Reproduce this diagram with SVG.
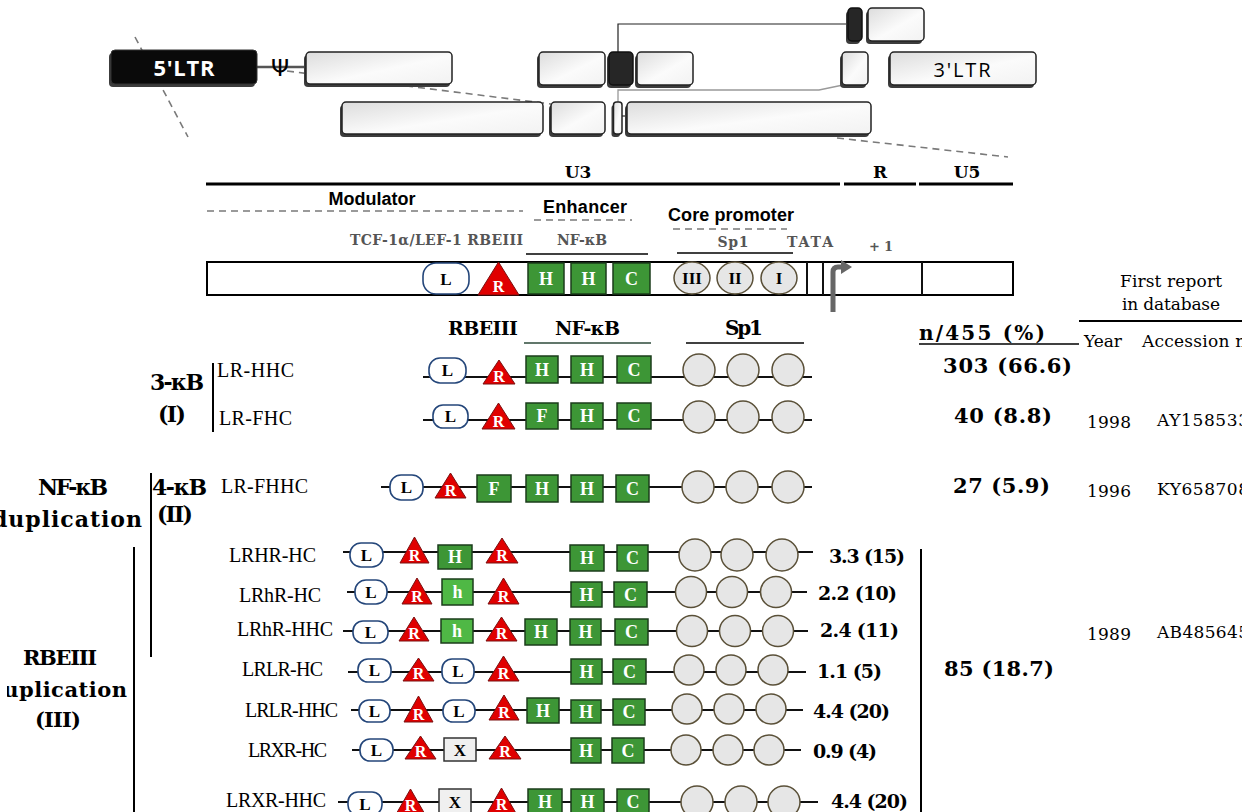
<svg xmlns="http://www.w3.org/2000/svg" width="1258" height="812" viewBox="0 0 1258 812">
  <defs>
    <linearGradient id="boxFill" x1="0" y1="0" x2="1" y2="1">
      <stop offset="0" stop-color="#dcdcdc"/>
      <stop offset="0.55" stop-color="#fbfbfb"/>
      <stop offset="1" stop-color="#f2f2f2"/>
    </linearGradient>
    <clipPath id="rightClip"><rect x="0" y="0" width="1242" height="812"/></clipPath>
    <clipPath id="leftClip"><rect x="7" y="540" width="200" height="272"/></clipPath>
    <style>
      .gbox{fill:url(#boxFill);stroke:#222;stroke-width:1.5}
      .gdark{fill:#262626;stroke:#111;stroke-width:1.5}
      .shadow{fill:#3c3c3c}
      .dash{stroke:#7a7a7a;stroke-width:1.6;stroke-dasharray:7 5;fill:none}
      .bar{fill:#fff;stroke:#000;stroke-width:2}
      .rule{stroke:#000;stroke-width:3}
      .thin{stroke:#000;stroke-width:1.5}
      .bb{stroke:#111;stroke-width:2}
      .lbox{fill:#fff;stroke:#24467a;stroke-width:1.6}
      .tri{fill:#e00000;stroke:#7a1111;stroke-width:1}
      .hbox{fill:#3d9636;stroke:#1b3d1b;stroke-width:1.5}
      .hlight{fill:#4fb845;stroke:#1b3d1b;stroke-width:1.5}
      .xbox{fill:#f0f0f0;stroke:#333;stroke-width:1.5}
      .sp{fill:#e6e6e6;stroke:#5a5038;stroke-width:1.5}
      .vline{stroke:#000;stroke-width:2}
      .sym{font-family:"Liberation Serif","Times New Roman",serif;font-weight:bold;font-size:18px;text-anchor:middle;fill:#fff}
      .symk{font-family:"Liberation Serif","Times New Roman",serif;font-weight:bold;font-size:17px;text-anchor:middle;fill:#000}
      .symr{font-family:"Liberation Serif","Times New Roman",serif;font-weight:bold;font-size:16px;text-anchor:middle;fill:#fff}
      .serif{font-family:"DejaVu Serif",serif;fill:#000}
      .serifb{font-family:"DejaVu Serif",serif;font-weight:bold;fill:#000}
      .grayb{font-family:"DejaVu Serif",serif;font-weight:bold;fill:#555}
      .sans{font-family:"Liberation Sans",Arial,sans-serif;font-weight:bold;font-size:18px;fill:#000;text-anchor:middle}
      .row{font-family:"Liberation Serif","Times New Roman",serif;font-size:20px;fill:#000}
      .pct{font-size:19px}
      .big{font-size:21px}
    </style>
  </defs>
  <rect width="1258" height="812" fill="#fff"/>

  <!-- genome map: connectors and guide lines -->
  <g id="connectors">
    <line class="dash" x1="135" y1="37" x2="188" y2="137"/>
    <line class="dash" x1="287" y1="71" x2="551" y2="104"/>
    <line class="dash" x1="837" y1="138" x2="1008" y2="157"/>
    <line x1="257" y1="67" x2="306" y2="67" stroke="#555" stroke-width="2.5"/>
    <path d="M848,24 H618 V52" fill="none" stroke="#222" stroke-width="1.2"/>
    <path d="M843,85 L819,90 H618 V102" fill="none" stroke="#999" stroke-width="1.3"/>
    <line x1="622" y1="116" x2="627" y2="116" stroke="#555" stroke-width="1.5"/>
  </g>

  <!-- genome map: exon boxes -->
  <g id="genome">
    <g id="ltr5">
      <rect class="shadow" x="109" y="53" width="146" height="34" rx="4"/>
      <rect x="111" y="50" width="146" height="34" rx="4" fill="#0a0a0a" stroke="#333" stroke-width="1"/>
      <text x="184" y="76" text-anchor="middle" font-family="'Open Sans','DejaVu Sans',sans-serif" font-weight="bold" font-size="22" fill="#fff" textLength="61">5'LTR</text>
    </g>
    <text id="psi" x="280" y="76" text-anchor="middle" font-family="'DejaVu Sans',sans-serif" font-size="23" fill="#000">Ψ</text>
    <g id="gag">
      <rect class="shadow" x="304" y="55" width="146" height="32" rx="4"/>
      <rect class="gbox" x="306" y="52" width="146" height="32" rx="4"/>
    </g>
    <g id="row2-a">
      <rect class="shadow" x="340" y="105" width="201" height="32" rx="4"/>
      <rect class="gbox" x="342" y="102" width="201" height="32" rx="4"/>
    </g>
    <g id="row2-b">
      <rect class="shadow" x="549" y="105" width="54" height="32" rx="4"/>
      <rect class="gbox" x="551" y="102" width="54" height="32" rx="4"/>
    </g>
    <g id="row2-c">
      <rect class="shadow" x="611.5" y="105" width="8.5" height="32" rx="3"/>
      <rect class="gbox" x="613.5" y="102" width="8.5" height="32" rx="3"/>
    </g>
    <g id="row2-d">
      <rect class="shadow" x="625" y="105" width="244" height="32" rx="4"/>
      <rect class="gbox" x="627" y="102" width="244" height="32" rx="4"/>
    </g>
    <g id="mid-a">
      <rect class="shadow" x="537" y="55" width="66" height="33" rx="4"/>
      <rect class="gbox" x="539" y="52" width="66" height="33" rx="4"/>
    </g>
    <g id="mid-exon">
      <rect class="shadow" x="607" y="55" width="24" height="33" rx="4"/>
      <rect class="gdark" x="609" y="52" width="24" height="33" rx="4"/>
    </g>
    <g id="mid-b">
      <rect class="shadow" x="635" y="55" width="56" height="33" rx="4"/>
      <rect class="gbox" x="637" y="52" width="56" height="33" rx="4"/>
    </g>
    <g id="mid-c">
      <rect class="shadow" x="840" y="55" width="26" height="33" rx="4"/>
      <rect class="gbox" x="842" y="52" width="26" height="33" rx="4"/>
    </g>
    <g id="ltr3">
      <rect class="shadow" x="888" y="55" width="146" height="33" rx="4"/>
      <rect class="gbox" x="890" y="52" width="146" height="33" rx="4"/>
      <text x="962" y="77" text-anchor="middle" font-family="'Open Sans','DejaVu Sans',sans-serif" font-size="20" fill="#000" textLength="57">3'LTR</text>
    </g>
    <g id="top-exon">
      <rect class="shadow" x="846" y="11" width="14" height="33" rx="4"/>
      <rect class="gdark" x="848" y="8" width="14" height="33" rx="4"/>
    </g>
    <g id="top-b">
      <rect class="shadow" x="866" y="11" width="56" height="33" rx="4"/>
      <rect class="gbox" x="868" y="8" width="56" height="33" rx="4"/>
    </g>
  </g>

  <!-- LTR regions -->
  <g id="ltr-regions">
    <line class="rule" x1="206" y1="184" x2="840" y2="184"/>
    <line class="rule" x1="844" y1="184" x2="916" y2="184"/>
    <line class="rule" x1="919" y1="184" x2="1013" y2="184"/>
    <text class="serifb" x="578" y="178" font-size="17" text-anchor="middle">U3</text>
    <text class="serifb" x="880" y="178" font-size="17" text-anchor="middle">R</text>
    <text class="serifb" x="967" y="178" font-size="17" text-anchor="middle">U5</text>

    <text class="sans" x="372" y="205" textLength="87">Modulator</text>
    <line class="dash" x1="207" y1="211" x2="523" y2="211" stroke-width="1" stroke-dasharray="3 2"/>
    <text class="sans" x="585" y="213" textLength="84">Enhancer</text>
    <line class="dash" x1="534" y1="220" x2="632" y2="220" stroke-width="1" stroke-dasharray="3 2"/>
    <text class="sans" x="731" y="221" textLength="126">Core promoter</text>
    <line class="dash" x1="673" y1="229" x2="787" y2="229" stroke-width="1" stroke-dasharray="3 2"/>

    <text class="grayb" x="523" y="245" font-size="14" text-anchor="end" textLength="173">TCF-1α/LEF-1 RBEIII</text>
    <text class="grayb" x="582" y="245" font-size="14" text-anchor="middle" textLength="50">NF-κB</text>
    <line class="thin" x1="526" y1="254" x2="648" y2="254"/>
    <text class="grayb" x="733" y="247" font-size="14" text-anchor="middle" textLength="31">Sp1</text>
    <line class="thin" x1="677" y1="253" x2="793" y2="253"/>
    <text class="grayb" x="810" y="247" font-size="14" text-anchor="middle" textLength="46">TATA</text>
    <text class="grayb" x="881" y="251" font-size="13" text-anchor="middle" textLength="24">+ 1</text>
  </g>

  <!-- U3-R-U5 element map -->
  <g id="ltr-map">
    <rect class="bar" x="207" y="262" width="806" height="33"/>
    <line class="bb" x1="807" y1="262" x2="807" y2="295"/>
    <line class="bb" x1="823" y1="262" x2="823" y2="295"/>
    <line class="bb" x1="922" y1="262" x2="922" y2="295"/>
    <rect class="lbox" x="423" y="263" width="46" height="31" rx="13"/>
    <text class="symk" x="446" y="285" font-size="19">L</text>
    <polygon class="tri" points="478,295 498.5,262 519,295"/>
    <text class="symr" x="498.5" y="292" font-size="18">R</text>
    <rect class="hbox" x="528" y="263" width="36" height="31"/>
    <text class="sym" x="546" y="285">H</text>
    <rect class="hbox" x="571" y="263" width="35" height="31"/>
    <text class="sym" x="588.5" y="285">H</text>
    <rect class="hbox" x="613" y="263" width="37" height="31"/>
    <text class="sym" x="631.5" y="285">C</text>
    <ellipse class="sp" cx="692" cy="278" rx="18" ry="16"/>
    <text class="symk" x="692" y="284">III</text>
    <ellipse class="sp" cx="735" cy="278" rx="18" ry="16"/>
    <text class="symk" x="735" y="284">II</text>
    <ellipse class="sp" cx="779" cy="278" rx="18" ry="16"/>
    <text class="symk" x="779" y="284">I</text>
    <path d="M833,312 V272 Q833,267 838,267 H842" fill="none" stroke="#666" stroke-width="5"/>
    <polygon points="841,260 852,267 841,274" fill="#666"/>
  </g>

  <!-- column headers -->
  <g id="headers">
    <text class="serifb" x="448" y="335" font-size="19" textLength="70">RBEIII</text>
    <text class="serifb" x="555" y="335" font-size="19" textLength="65">NF-κB</text>
    <line x1="524" y1="343" x2="651" y2="343" stroke="#2d4a3a" stroke-width="1.5"/>
    <text class="serifb" x="725" y="335" font-size="20" textLength="38">Sp1</text>
    <line class="thin" x1="686" y1="343" x2="804" y2="343"/>
  </g>

  <!-- group labels -->
  <g id="group-labels">
    <text class="serifb" x="150" y="390" font-size="22" textLength="54">3-κB</text>
    <text class="serifb" x="158" y="422" font-size="22" textLength="28">(I)</text>
    <line class="vline" x1="213" y1="363" x2="213" y2="432"/>
    <text class="serifb" x="38" y="495" font-size="22" textLength="70">NF-κB</text>
    <text class="serifb" x="142" y="527" font-size="22" text-anchor="end" textLength="150">duplication</text>
    <line class="vline" x1="151" y1="473" x2="151" y2="657"/>
    <text class="serifb" x="152" y="495" font-size="22" textLength="55">4-κB</text>
    <text class="serifb" x="157" y="522" font-size="22" textLength="36">(II)</text>
    <text class="serifb" x="23" y="665" font-size="21" textLength="74">RBEIII</text>
    <text class="serifb" x="127" y="697" font-size="21" text-anchor="end" textLength="139" clip-path="url(#leftClip)">duplication</text>
    <text class="serifb" x="35" y="727" font-size="21" textLength="46">(III)</text>
    <line class="vline" x1="134" y1="547" x2="134" y2="812"/>
  </g>

  <!-- variant structures -->
  <g id="var-LR-HHC">
    <text class="row" x="217" y="377" textLength="77">LR-HHC</text>
    <line class="bb" x1="423" y1="377" x2="812" y2="377"/>
    <rect class="lbox" x="429" y="358" width="37" height="25" rx="11"/><text class="symk" x="447.5" y="376">L</text>
    <polygon class="tri" points="483,384 499,360 515,384"/><text class="symr" x="499" y="382">R</text>
    <rect class="hbox" x="526" y="356" width="32" height="27"/><text class="sym" x="542" y="376">H</text>
    <rect class="hbox" x="571" y="356" width="32" height="27"/><text class="sym" x="587" y="376">H</text>
    <rect class="hbox" x="617" y="356" width="34" height="27"/><text class="sym" x="634" y="376">C</text>
    <circle class="sp" cx="699" cy="370" r="16"/><circle class="sp" cx="743" cy="370" r="16"/><circle class="sp" cx="788" cy="370" r="16"/>
  </g>
  <g id="var-LR-FHC">
    <text class="row" x="219" y="425" textLength="73">LR-FHC</text>
    <line class="bb" x1="423" y1="420" x2="812" y2="420"/>
    <rect class="lbox" x="433" y="405" width="35" height="23" rx="10"/><text class="symk" x="450.5" y="422">L</text>
    <polygon class="tri" points="482,429 498.5,403 515,429"/><text class="symr" x="498.5" y="427">R</text>
    <rect class="hbox" x="526" y="403" width="32" height="26"/><text class="sym" x="542" y="422">F</text>
    <rect class="hbox" x="571" y="403" width="32" height="26"/><text class="sym" x="587" y="422">H</text>
    <rect class="hbox" x="617" y="403" width="34" height="26"/><text class="sym" x="634" y="422">C</text>
    <circle class="sp" cx="699" cy="417" r="16"/><circle class="sp" cx="743" cy="417" r="16"/><circle class="sp" cx="788" cy="417" r="16"/>
  </g>
  <g id="var-LR-FHHC">
    <text class="row" x="221" y="493" textLength="87">LR-FHHC</text>
    <line class="bb" x1="381" y1="487" x2="812" y2="487"/>
    <rect class="lbox" x="390" y="475" width="33" height="25" rx="11"/><text class="symk" x="406.5" y="493">L</text>
    <polygon class="tri" points="435,498 450.5,473 466,498"/><text class="symr" x="450.5" y="496">R</text>
    <rect class="hbox" x="477" y="475" width="34" height="27"/><text class="sym" x="494" y="495">F</text>
    <rect class="hbox" x="526" y="475" width="32" height="27"/><text class="sym" x="542" y="495">H</text>
    <rect class="hbox" x="571" y="475" width="32" height="27"/><text class="sym" x="587" y="495">H</text>
    <rect class="hbox" x="616" y="475" width="33" height="27"/><text class="sym" x="632.5" y="495">C</text>
    <circle class="sp" cx="698" cy="487" r="16"/><circle class="sp" cx="742" cy="487" r="16"/><circle class="sp" cx="788" cy="487" r="16"/>
  </g>
  <g id="var-LRHR-HC">
    <text class="row" x="229" y="562" textLength="87">LRHR-HC</text>
    <line class="bb" x1="343" y1="552" x2="813" y2="552"/>
    <rect class="lbox" x="350" y="543" width="33" height="24" rx="11"/><text class="symk" x="366.5" y="561">L</text>
    <polygon class="tri" points="400,563 414.5,537 429,563"/><text class="symr" x="414.5" y="561">R</text>
    <rect class="hbox" x="438" y="545" width="34" height="24"/><text class="sym" x="455" y="563">H</text>
    <polygon class="tri" points="486,563 502,538 518,563"/><text class="symr" x="502" y="561">R</text>
    <rect class="hbox" x="570" y="545" width="34" height="26"/><text class="sym" x="587" y="564">H</text>
    <rect class="hbox" x="617" y="545" width="31" height="26"/><text class="sym" x="632.5" y="564">C</text>
    <circle class="sp" cx="695" cy="555" r="16"/><circle class="sp" cx="737" cy="555" r="16"/><circle class="sp" cx="782" cy="555" r="16"/>
    <text class="serifb pct" x="829" y="563" textLength="76">3.3 (15)</text>
  </g>
  <g id="var-LRhR-HC">
    <text class="row" x="239" y="602" textLength="82">LRhR-HC</text>
    <line class="bb" x1="347" y1="592" x2="807" y2="592"/>
    <rect class="lbox" x="355" y="580" width="32" height="24" rx="11"/><text class="symk" x="371" y="598">L</text>
    <polygon class="tri" points="402,604 417,578 432,604"/><text class="symr" x="417" y="602">R</text>
    <rect class="hlight" x="442" y="579" width="31" height="26"/><text class="sym" x="457.5" y="598" font-size="17">h</text>
    <polygon class="tri" points="488,604 503.5,578 519,604"/><text class="symr" x="503.5" y="602">R</text>
    <rect class="hbox" x="571" y="582" width="31" height="25"/><text class="sym" x="586.5" y="601">H</text>
    <rect class="hbox" x="614" y="582" width="33" height="25"/><text class="sym" x="630.5" y="601">C</text>
    <circle class="sp" cx="691" cy="592" r="15.5"/><circle class="sp" cx="732" cy="592" r="15.5"/><circle class="sp" cx="776" cy="592" r="15.5"/>
    <text class="serifb pct" x="818" y="600" textLength="79">2.2 (10)</text>
  </g>
  <g id="var-LRhR-HHC">
    <text class="row" x="237" y="636" textLength="96">LRhR-HHC</text>
    <line class="bb" x1="343" y1="631" x2="808" y2="631"/>
    <rect class="lbox" x="353" y="621" width="35" height="22" rx="10"/><text class="symk" x="370.5" y="638">L</text>
    <polygon class="tri" points="399,641 414,617 429,641"/><text class="symr" x="414" y="639">R</text>
    <rect class="hlight" x="441" y="619" width="32" height="24"/><text class="sym" x="457" y="637" font-size="17">h</text>
    <polygon class="tri" points="486,641 501.5,617 517,641"/><text class="symr" x="501.5" y="639">R</text>
    <rect class="hbox" x="525" y="619" width="32" height="26"/><text class="sym" x="541" y="638">H</text>
    <rect class="hbox" x="570" y="619" width="31" height="26"/><text class="sym" x="585.5" y="638">H</text>
    <rect class="hbox" x="615" y="619" width="33" height="26"/><text class="sym" x="631.5" y="638">C</text>
    <circle class="sp" cx="692" cy="631" r="15.5"/><circle class="sp" cx="735" cy="631" r="15.5"/><circle class="sp" cx="778" cy="631" r="15.5"/>
    <text class="serifb pct" x="820" y="637" textLength="79">2.4 (11)</text>
  </g>
  <g id="var-LRLR-HC">
    <text class="row" x="242" y="676" textLength="81">LRLR-HC</text>
    <line class="bb" x1="348" y1="672" x2="806" y2="672"/>
    <rect class="lbox" x="358" y="659" width="33" height="23" rx="10"/><text class="symk" x="374.5" y="676">L</text>
    <polygon class="tri" points="403,681 418.5,658 434,681"/><text class="symr" x="418.5" y="679">R</text>
    <rect class="lbox" x="442" y="659" width="32" height="24" rx="10"/><text class="symk" x="458" y="677">L</text>
    <polygon class="tri" points="488,681 503.5,656 519,681"/><text class="symr" x="503.5" y="679">R</text>
    <rect class="hbox" x="571" y="659" width="31" height="25"/><text class="sym" x="586.5" y="678">H</text>
    <rect class="hbox" x="613" y="659" width="33" height="25"/><text class="sym" x="629.5" y="678">C</text>
    <circle class="sp" cx="689" cy="670" r="15"/><circle class="sp" cx="731" cy="670" r="15"/><circle class="sp" cx="773" cy="670" r="15"/>
    <text class="serifb pct" x="817" y="678" textLength="65">1.1 (5)</text>
  </g>
  <g id="var-LRLR-HHC">
    <text class="row" x="245" y="717" textLength="93">LRLR-HHC</text>
    <line class="bb" x1="351" y1="710" x2="803" y2="710"/>
    <rect class="lbox" x="359" y="700" width="31" height="22" rx="10"/><text class="symk" x="374.5" y="717">L</text>
    <polygon class="tri" points="404,722 418.5,696 433,722"/><text class="symr" x="418.5" y="720">R</text>
    <rect class="lbox" x="443" y="700" width="32" height="22" rx="10"/><text class="symk" x="459" y="717">L</text>
    <polygon class="tri" points="489,720 504,695 519,720"/><text class="symr" x="504" y="718">R</text>
    <rect class="hbox" x="527" y="698" width="32" height="25"/><text class="sym" x="543" y="717">H</text>
    <rect class="hbox" x="571" y="700" width="30" height="23"/><text class="sym" x="586" y="718">H</text>
    <rect class="hbox" x="613" y="699" width="32" height="26"/><text class="sym" x="629" y="718">C</text>
    <circle class="sp" cx="687" cy="709" r="15"/><circle class="sp" cx="729" cy="709" r="15"/><circle class="sp" cx="771" cy="709" r="15"/>
    <text class="serifb pct" x="813" y="718" textLength="77">4.4 (20)</text>
  </g>
  <g id="var-LRXR-HC">
    <text class="row" x="248" y="757" textLength="79">LRXR-HC</text>
    <line class="bb" x1="352" y1="750" x2="801" y2="750"/>
    <rect class="lbox" x="360" y="739" width="33" height="22" rx="10"/><text class="symk" x="376.5" y="756">L</text>
    <polygon class="tri" points="405,759 420.5,736 436,759"/><text class="symr" x="420.5" y="757">R</text>
    <rect class="xbox" x="444" y="738" width="32" height="23"/><text class="symk" x="460" y="756">X</text>
    <polygon class="tri" points="489,759 505,736 521,759"/><text class="symr" x="505" y="757">R</text>
    <rect class="hbox" x="571" y="738" width="30" height="25"/><text class="sym" x="586" y="757">H</text>
    <rect class="hbox" x="612" y="738" width="32" height="25"/><text class="sym" x="628" y="757">C</text>
    <circle class="sp" cx="686" cy="750" r="15"/><circle class="sp" cx="728" cy="750" r="15"/><circle class="sp" cx="769" cy="750" r="15"/>
    <text class="serifb pct" x="813" y="758" textLength="64">0.9 (4)</text>
  </g>
  <g id="var-LRXR-HHC">
    <text class="row" x="226" y="807" textLength="100">LRXR-HHC</text>
    <line class="bb" x1="338" y1="802" x2="818" y2="802"/>
    <rect class="lbox" x="348" y="792" width="34" height="23" rx="10"/><text class="symk" x="365" y="810">L</text>
    <polygon class="tri" points="395,816 410.5,789 426,816"/><text class="symr" x="410.5" y="811">R</text>
    <rect class="xbox" x="439" y="789" width="32" height="26"/><text class="symk" x="455" y="808">X</text>
    <polygon class="tri" points="486,815 501.5,788 517,815"/><text class="symr" x="501.5" y="810">R</text>
    <rect class="hbox" x="528" y="789" width="34" height="26"/><text class="sym" x="545" y="808">H</text>
    <rect class="hbox" x="571" y="789" width="33" height="26"/><text class="sym" x="587.5" y="808">H</text>
    <rect class="hbox" x="617" y="789" width="32" height="26"/><text class="sym" x="633" y="808">C</text>
    <circle class="sp" cx="697" cy="802" r="16"/><circle class="sp" cx="741" cy="802" r="16"/><circle class="sp" cx="784" cy="802" r="16"/>
    <text class="serifb pct" x="831" y="808" textLength="77">4.4 (20)</text>
  </g>

  <!-- frequency column -->
  <g id="frequency">
    <text class="serifb" x="919" y="340" font-size="20" textLength="126">n/455 (%)</text>
    <line class="thin" x1="919" y1="344" x2="1079" y2="344"/>
    <text class="serifb big" x="943" y="373" textLength="129">303 (66.6)</text>
    <text class="serifb big" x="954" y="423" textLength="98">40 (8.8)</text>
    <text class="serifb big" x="953" y="493" textLength="97">27 (5.9)</text>
    <text class="serifb big" x="944" y="676" textLength="110">85 (18.7)</text>
    <line class="vline" x1="921" y1="549" x2="921" y2="812"/>
  </g>

  <!-- first report column -->
  <g id="first-report" clip-path="url(#rightClip)">
    <text class="serif" x="1171" y="287" font-size="17" text-anchor="middle" textLength="102">First report</text>
    <text class="serif" x="1171" y="310" font-size="17" text-anchor="middle" textLength="98">in database</text>
    <line class="vline" x1="1079" y1="321" x2="1258" y2="321"/>
    <text class="serif" x="1084" y="347" font-size="17" textLength="38">Year</text>
    <text class="serif" x="1142" y="347" font-size="17" textLength="120">Accession no.</text>
    <text class="serif" x="1087" y="428" font-size="17" textLength="44">1998</text>
    <text class="serif" x="1157" y="426" font-size="17" textLength="92">AY158533</text>
    <text class="serif" x="1087" y="497" font-size="17" textLength="44">1996</text>
    <text class="serif" x="1157" y="495" font-size="17" textLength="92">KY658708</text>
    <text class="serif" x="1087" y="640" font-size="17" textLength="44">1989</text>
    <text class="serif" x="1157" y="638" font-size="17" textLength="92">AB485645</text>
  </g>
</svg>
